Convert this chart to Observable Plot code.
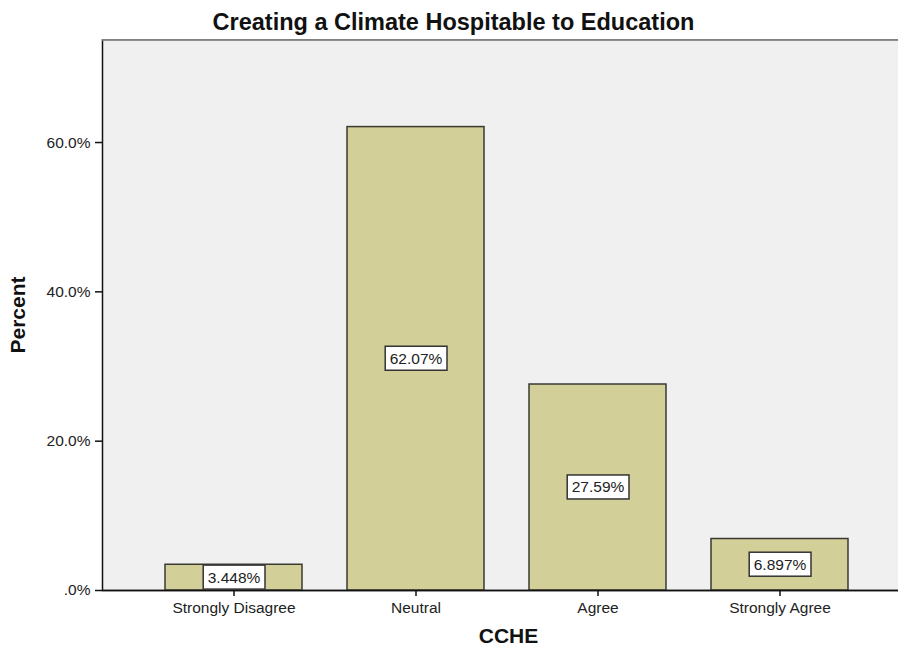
<!DOCTYPE html>
<html>
<head>
<meta charset="utf-8">
<script src="https://cdn.jsdelivr.net/npm/d3@7"></script>
<script src="https://cdn.jsdelivr.net/npm/@observablehq/plot@0.6"></script>
<style>
  body { margin: 0; background: #fff; font-family: "Liberation Sans", Arial, sans-serif; }
  #title {
    width: 898px; height: 39px; box-sizing: border-box; padding-left: 9px;
    text-align: center; font-weight: bold; font-size: 23.5px; line-height: 45px;
    color: #111; white-space: nowrap;
  }
  #chart svg { display: block; }
</style>
</head>
<body>
<div id="title">Creating a Climate Hospitable to Education</div>
<div id="chart"></div>
<script>
// Response categories and the share of respondents in each (percent)
const categories = ["Strongly Disagree", "Neutral", "Agree", "Strongly Agree"];
const percents = [3.448, 62.07, 27.59, 6.897];

// Y axis ticks and upper bound of the percent scale
const yTicks = [0, 20, 40, 60];
const yMax = 73.8;

const xTitle = "CCHE";
const yTitle = "Percent";

const data = categories.map((category, i) => ({category, percent: percents[i]}));

const fmtLabel = (v) => d3.format(".4r")(v) + "%";
const fmtTick = (v) => (v === 0 ? ".0%" : d3.format(".1f")(v) + "%");

const chart = Plot.plot({
  width: 898,
  height: 609,
  marginTop: 0,
  marginLeft: 102,
  marginRight: -2,
  marginBottom: 58,
  insetLeft: 40,
  insetRight: 30,
  style: {fontFamily: "Liberation Sans, Arial, sans-serif", fontSize: "15.5px", color: "#222", background: "#fff"},
  x: {domain: categories, paddingInner: 0.25, paddingOuter: 0.125},
  y: {domain: [0, yMax]},
  marks: [
    // plot background with a dark border (the right side falls outside the picture)
    Plot.frame({fill: "#f0f0f0", stroke: "#111", strokeWidth: 1.5}),
    Plot.ruleY([yMax], {stroke: "#808080", strokeWidth: 2.5}),
    Plot.barY(data, {x: "category", y: "percent", fill: "#d3cf98", stroke: "#3a3a32", strokeWidth: 1.5}),
    Plot.ruleY([0], {stroke: "#111", strokeWidth: 1.5}),
    Plot.axisY({ticks: yTicks, tickFormat: fmtTick, tickSize: 7, tickPadding: 5, label: null, stroke: "#111", strokeWidth: 1.5}),
    Plot.axisX({tickSize: 6, tickPadding: 5, label: null, stroke: "#111", strokeWidth: 1.5}),
    Plot.text(data, {
      x: "category", y: (d) => d.percent / 2, text: (d) => fmtLabel(d.percent),
      fontSize: 15.5, fill: "#222"
    }),
    Plot.text([xTitle], {frameAnchor: "bottom", dy: 52, dx: 7, fontWeight: "bold", fontSize: 21, fill: "#111"}),
    Plot.text([yTitle], {frameAnchor: "left", textAnchor: "middle", rotate: -90, dx: -84, fontWeight: "bold", fontSize: 21, fill: "#111"})
  ]
});

document.getElementById("chart").append(chart);

// White boxes behind the value labels inside the bars
const svgNS = "http://www.w3.org/2000/svg";
const valueTexts = new Set(percents.map(fmtLabel));
d3.select(chart).selectAll('g[aria-label="text"] text')
  .filter(function () { return valueTexts.has(this.textContent); })
  .each(function () {
    const b = this.getBBox();
    const r = document.createElementNS(svgNS, "rect");
    r.setAttribute("x", b.x - 4.5);
    r.setAttribute("y", b.y - 3.5);
    r.setAttribute("width", b.width + 9);
    r.setAttribute("height", b.height + 7);
    r.setAttribute("fill", "#fff");
    r.setAttribute("stroke", "#333");
    r.setAttribute("stroke-width", 1.5);
    const t = this.getAttribute("transform");
    if (t) r.setAttribute("transform", t);
    this.parentNode.insertBefore(r, this);
  });
</script>
</body>
</html>
